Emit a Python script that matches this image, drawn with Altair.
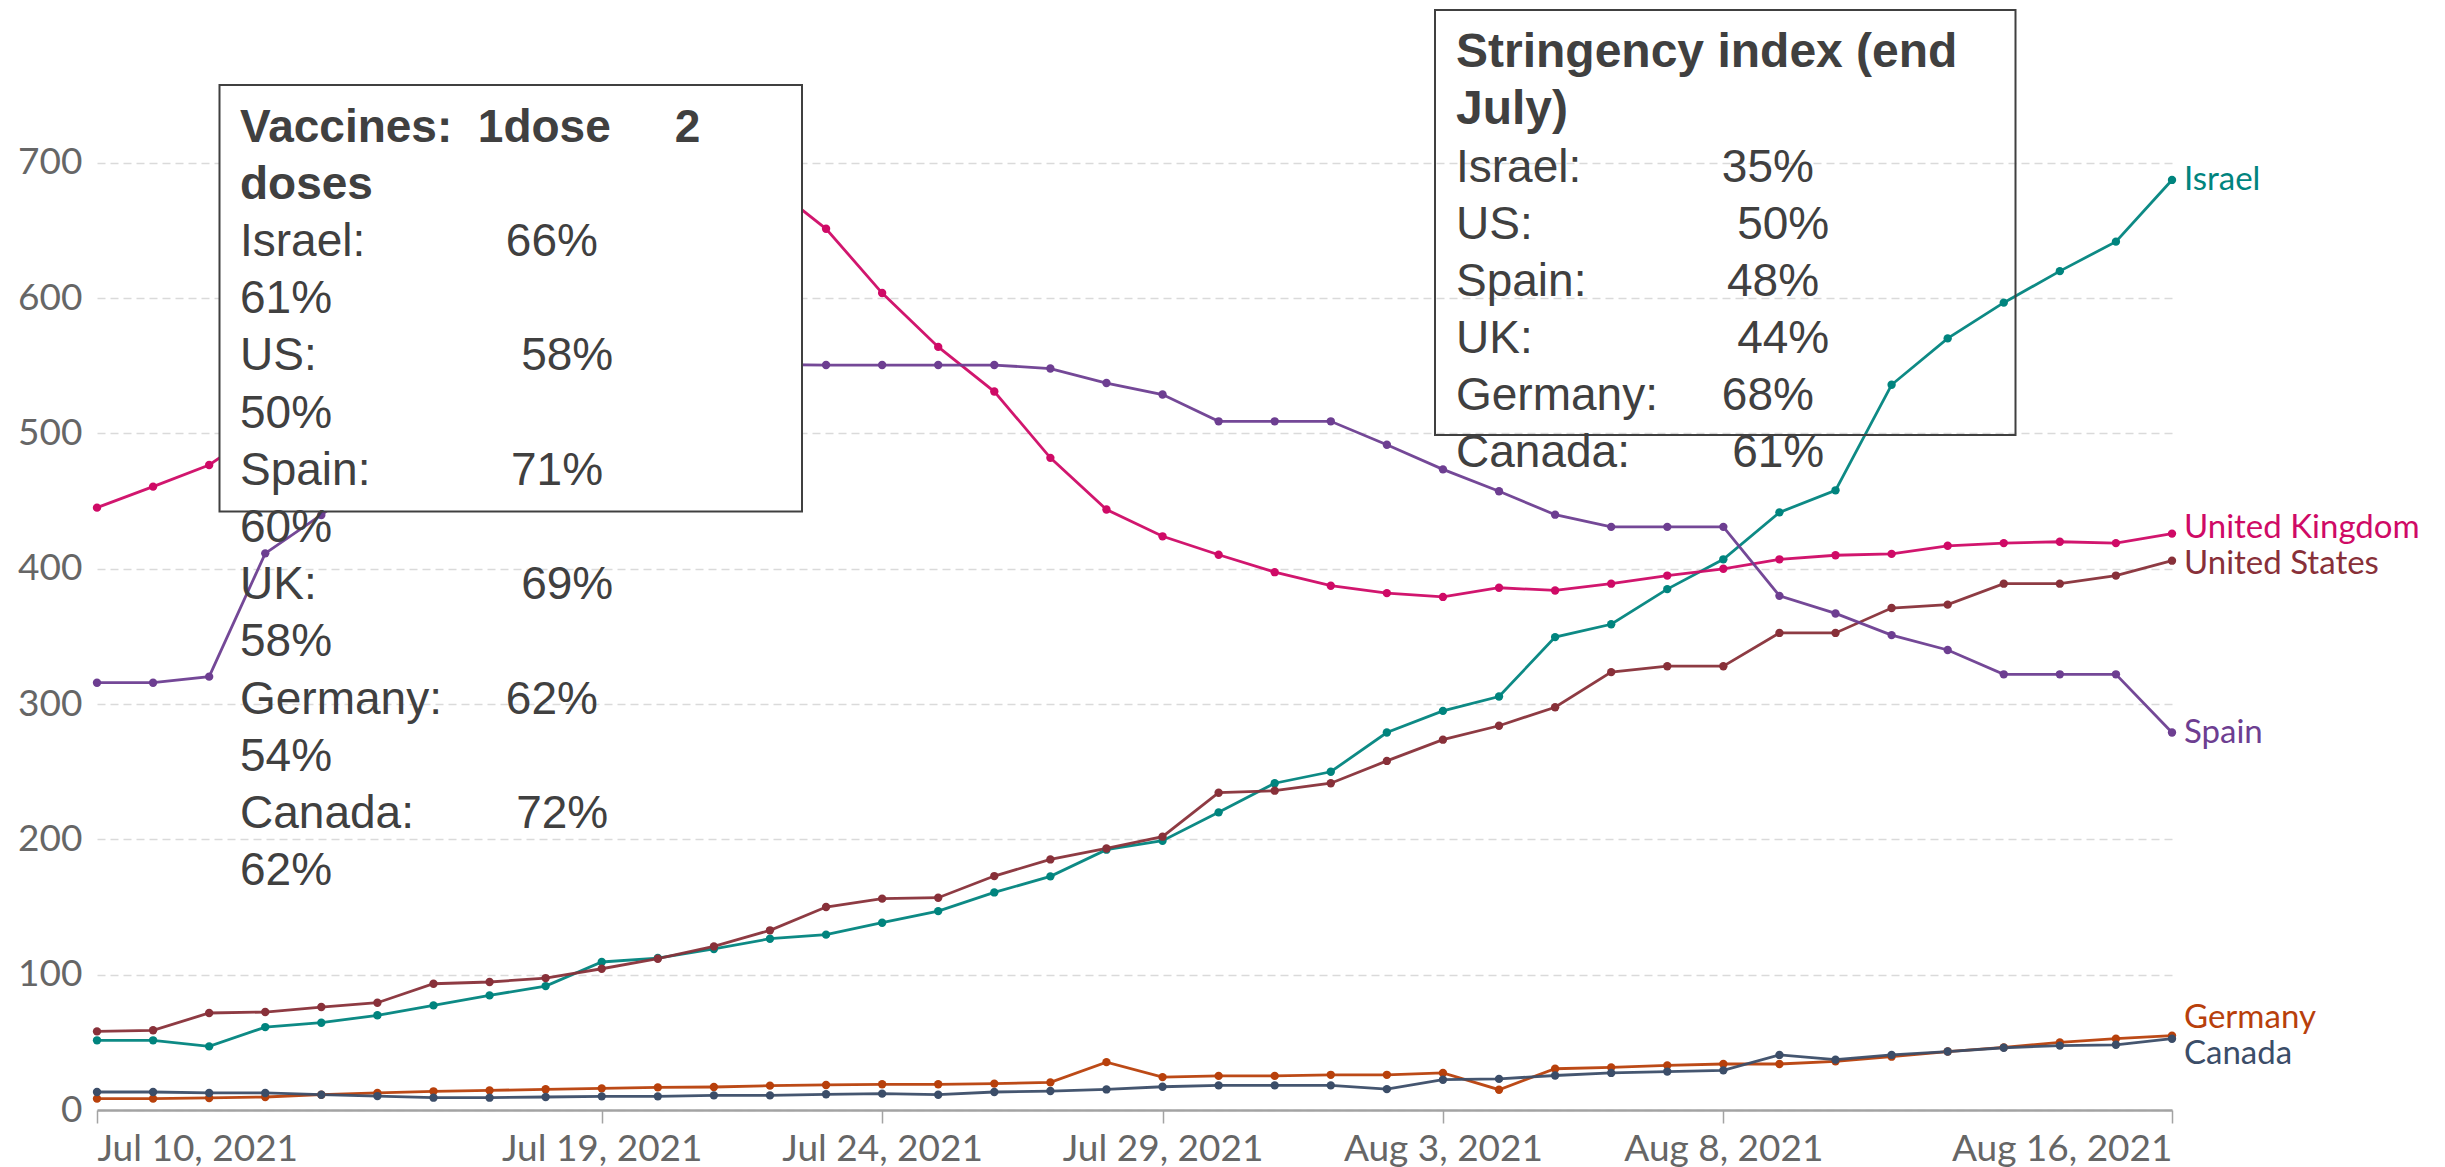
import altair as alt
import pandas as pd

# ---- data (7-day avg new cases per million) ----
dates = [d.strftime("%Y-%m-%d") for d in pd.date_range("2021-07-10", "2021-08-16", freq="D")]

israel = [51.5, 51.5, 47, 61.3, 64.5, 70, 77.3, 84.7, 91.6, 109.4, 112.3, 119, 126.6, 129.6,
          138.4, 147, 160.8, 172.7, 192.4, 199, 220, 241.5, 250, 279, 295, 305.6, 349.5, 359,
          385, 407, 441.7, 458, 536, 570.3, 596.7, 620, 641.8, 687.4]
united_kingdom = [445.2, 460.7, 476.7, 505, 535, 570, 610, 650, 680, 700, 708, 700, 684, 651.3,
                  603.8, 564, 531, 482, 443.8, 424, 410.4, 397.5, 387.5, 382, 379.2, 386, 384, 389,
                  395, 400, 407, 410, 411, 417, 419, 420, 419, 426]
united_states = [58.1, 58.9, 71.7, 72.4, 76.1, 79.3, 93.3, 94.6, 97.5, 104.4, 111.8, 120.9, 132.8,
                 150, 156.2, 156.9, 172.9, 185.2, 193.3, 202, 234.5, 236, 241.5, 258, 273.7, 284,
                 297.7, 323.6, 328, 328, 352.6, 352.6, 371, 373.5, 389, 389, 395, 406]
spain = [315.8, 315.8, 320.3, 411.4, 439.8, 470, 495, 515, 530, 540, 547, 550, 551, 550.6, 550.6,
         550.6, 550.6, 548, 537.3, 528.8, 509, 509, 509, 491.7, 473.5, 457.3, 440, 431, 431, 431,
         380, 367, 351, 340, 322, 322, 322, 279]
germany = [8.4, 8.4, 8.9, 9.6, 11.3, 12.6, 13.8, 14.5, 15.3, 16, 16.7, 17, 18, 18.5, 19, 19, 19.5,
           20.4, 35.4, 24.3, 25.2, 25.2, 26, 26, 27.4, 15, 30.5, 31.5, 33, 34, 34, 36, 39.4, 43.2,
           46.3, 50, 52.7, 55]
canada = [13.3, 13.3, 12.6, 12.6, 11.3, 10.3, 9.1, 9.1, 9.6, 10.1, 10.1, 10.8, 10.8, 11.6, 12.1,
          11.3, 13.3, 14, 15.2, 17.2, 18.2, 18.2, 18.2, 15.4, 22.4, 23, 25.5, 27.4, 28.4, 29.3, 40.7,
          37.2, 40.7, 43.2, 46, 47.6, 48.2, 52.7]

countries = ["Israel", "United Kingdom", "United States", "Spain", "Germany", "Canada"]
series = [israel, united_kingdom, united_states, spain, germany, canada]
colors = ["#00847E", "#CF0A66", "#883039", "#6D3E91", "#B8400B", "#3B4D68"]

y_ticks = [0, 100, 200, 300, 400, 500, 600, 700]
x_ticks = ["2021-07-10", "2021-07-19", "2021-07-24", "2021-07-29", "2021-08-03", "2021-08-08", "2021-08-16"]

nb = "\u00a0"
vacc_title = ["Vaccines:" + nb * 2 + "1dose" + nb * 5 + "2", "doses"]
vacc_lines = ["Israel:" + nb * 11 + "66%", "61%",
              "US:" + nb * 16 + "58%", "50%",
              "Spain:" + nb * 11 + "71%", "60%",
              "UK:" + nb * 16 + "69%", "58%",
              "Germany:" + nb * 5 + "62%", "54%",
              "Canada:" + nb * 8 + "72%", "62%"]
str_title = ["Stringency index (end", "July)"]
str_lines = ["Israel:" + nb * 11 + "35%",
             "US:" + nb * 16 + "50%",
             "Spain:" + nb * 11 + "48%",
             "UK:" + nb * 16 + "44%",
             "Germany:" + nb * 5 + "68%",
             "Canada:" + nb * 8 + "61%"]

rows = []
for c, vals in zip(countries, series):
    for d, v in zip(dates, vals):
        rows.append({"country": c, "date": d, "value": v})
df = pd.DataFrame(rows)
last_df = pd.DataFrame({"country": countries, "date": [dates[-1]] * len(countries),
                        "value": [s[-1] for s in series]})

# ---- layout ----
W, H, YMAX = 2075, 1100, 813
FONT_AX = "Lato"
FONT_BOX = "Liberation Sans, Arial, sans-serif"


def dt(s):
    y, m, d = map(int, s.split("-"))
    return alt.DateTime(year=y, month=m, date=d, utc=True)


xscale = alt.Scale(type="utc", domain=[dt(dates[0]), dt(dates[-1])], nice=False)
yscale = alt.Scale(domain=[0, YMAX], nice=False, zero=True)

x_enc = alt.X("date:T", scale=xscale, title=None,
              axis=alt.Axis(values=[dt(s) for s in x_ticks], format="%b %-d, %Y", labelFlush=True,
                            grid=False, domain=True, domainColor="#a3a3a3", domainWidth=2.5,
                            ticks=True, tickSize=13, tickColor="#a3a3a3", tickWidth=1.5,
                            labelPadding=8, labelFont=FONT_AX, labelFontSize=37, labelLimit=0,
                            labelColor="#666666", labelOverlap=False))
y_enc = alt.Y("value:Q", scale=yscale, title=None,
              axis=alt.Axis(values=y_ticks, grid=True, gridDash=[8, 5], gridColor="#dadada",
                            gridWidth=1.6, domain=False, ticks=False, labelPadding=15,
                            labelFont=FONT_AX, labelFontSize=37, labelColor="#666666"))
color_enc = alt.Color("country:N", scale=alt.Scale(domain=countries, range=colors), legend=None)

base = alt.Chart(df).encode(x=x_enc, y=y_enc, color=color_enc, detail="country:N")
lines = base.mark_line(strokeWidth=2.8, opacity=0.95)
points = base.mark_circle(size=70, opacity=1)

label_dy = {"Israel": 0, "United Kingdom": -6, "United States": 3, "Spain": 0,
            "Germany": -18, "Canada": 15}
labels = []
for c, col in zip(countries, colors):
    labels.append(
        alt.Chart(last_df[last_df.country == c]).mark_text(
            align="left", baseline="middle", dx=12, dy=label_dy[c], font=FONT_AX,
            fontSize=33, color=col
        ).encode(x=alt.X("date:T", scale=xscale), y=alt.Y("value:Q", scale=yscale), text="country:N")
    )

one = pd.DataFrame({"k": [0]})


def box(x1, x2, y1, y2, filled):
    return alt.Chart(one).mark_rect(
        fill="white", fillOpacity=1 if filled else 0, stroke="#404040", strokeWidth=2
    ).encode(x=alt.value(x1), x2=alt.value(x2), y=alt.value(y1), y2=alt.value(y2))


def txt(lines_, x, y, bold, lh, size=46):
    return alt.Chart(one).mark_text(
        text=lines_, align="left", baseline="alphabetic", font=FONT_BOX, fontSize=size,
        fontWeight="bold" if bold else "normal", color="#404040", lineHeight=lh
    ).encode(x=alt.value(x), y=alt.value(y))


# vaccines box is opaque (hides the lines behind it), stringency box is see-through
vacc_box = box(122.5, 705, 75, 501.5, True)
str_box = box(1338, 1918.5, 0, 425, False)
texts = [
    txt(vacc_title, 143, 131.7, True, 57.2),
    txt(vacc_lines, 143, 246.1, False, 57.2),
    txt(str_title, 1359, 56.7, True, 57, 48),
    txt(str_lines, 1359, 171.7, False, 57),
]

chart = alt.layer(lines, points, *labels, vacc_box, str_box, *texts).properties(
    width=W, height=H,
    autosize=alt.AutoSizeParams(type="none"),
    padding={"left": 89, "top": 2, "right": 260, "bottom": 60},
    background="white",
).configure_view(stroke=None)

chart.save("out.html", embed_options={"renderer": "svg", "actions": False})
